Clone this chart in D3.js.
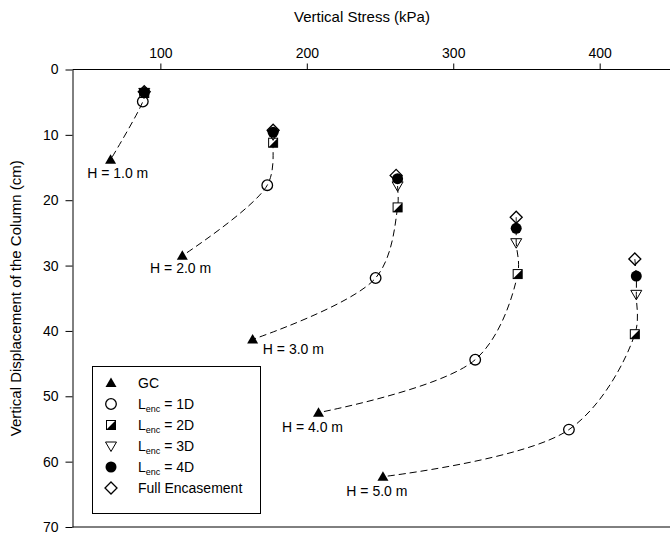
<!DOCTYPE html>
<html>
<head>
<meta charset="utf-8">
<script src="https://cdn.jsdelivr.net/npm/d3@7"></script>
<style>
  html, body { margin: 0; padding: 0; background: #fff; }
  svg { display: block; font-family: "Liberation Sans", Arial, sans-serif; }
</style>
</head>
<body>
<svg id="chart" width="670" height="538"></svg>
<script>
// Column settlement paths: vertical stress (kPa) vs. vertical displacement (cm)
const heightLabels = ["H = 1.0 m", "H = 2.0 m", "H = 3.0 m", "H = 4.0 m", "H = 5.0 m"];

const gcStress   = [66, 115, 163, 208, 252];
const gcDisp     = [13.8, 28.5, 41.3, 52.5, 62.3];
const enc1Stress = [88, 173, 247, 315, 379];
const enc1Disp   = [4.9, 17.7, 31.9, 44.4, 55.1];
const enc2Stress = [89, 177, 262, 344, 424];
const enc2Disp   = [3.6, 11.2, 21.1, 31.3, 40.5];
const enc3Stress = [89, 177, 262, 343, 425];
const enc3Disp   = [3.5, 10.0, 17.8, 26.5, 34.4];
const enc4Stress = [89, 177, 262, 343, 425];
const enc4Disp   = [3.5, 9.6, 16.7, 24.3, 31.6];
const fullStress = [89, 177, 261, 343, 424];
const fullDisp   = [3.4, 9.3, 16.2, 22.6, 29.0];

// anchor (stress, displacement) of each "H = ..." annotation
const labelStress = [50, 93, 170, 183, 227];
const labelDisp   = [16.6, 31.1, 43.6, 55.5, 65.3];

const stressTicks = [100, 200, 300, 400];
const dispTicks   = [0, 10, 20, 30, 40, 50, 60, 70];

const seriesNames = ["GC", "Lenc = 1D", "Lenc = 2D", "Lenc = 3D", "Lenc = 4D", "Full Encasement"];
const seriesKeys  = ["gc", "enc1", "enc2", "enc3", "enc4", "full"];
const seriesStress = [gcStress, enc1Stress, enc2Stress, enc3Stress, enc4Stress, fullStress];
const seriesDisp   = [gcDisp, enc1Disp, enc2Disp, enc3Disp, enc4Disp, fullDisp];

const svg = d3.select("#chart");

const x = d3.scaleLinear().domain([40, 450]).range([72.5, 672.9]);
const y = d3.scaleLinear().domain([0, 70]).range([69.5, 527]);

// top axis
const xAxis = svg.append("g")
  .attr("transform", `translate(0,${y(0)})`)
  .call(d3.axisTop(x).tickValues(stressTicks).tickSize(6).tickPadding(6).tickSizeOuter(0));
xAxis.select(".domain").remove();
svg.append("line").attr("x1", x(40)).attr("x2", 670).attr("y1", y(0)).attr("y2", y(0))
  .attr("stroke", "#000").attr("stroke-width", 1);

// left axis
const yAxis = svg.append("g")
  .attr("transform", `translate(${x(40)},0)`)
  .call(d3.axisLeft(y).tickValues(dispTicks).tickSize(7).tickPadding(7).tickSizeOuter(0));

// bottom frame line
svg.append("line").attr("x1", x(40)).attr("x2", 670).attr("y1", y(70)).attr("y2", y(70))
  .attr("stroke", "#000").attr("stroke-width", 1);

svg.selectAll(".tick text").attr("font-size", 14).attr("fill", "#000")
  .style("font-family", "'Liberation Sans', Arial, sans-serif");
svg.selectAll(".tick line, .domain").attr("stroke", "#000");

// axis titles
svg.append("text").attr("x", 362).attr("y", 22).attr("text-anchor", "middle")
  .attr("font-size", 15).text("Vertical Stress (kPa)");
svg.append("text")
  .attr("transform", `translate(21,${(y(0) + y(70)) / 2}) rotate(-90)`)
  .attr("text-anchor", "middle").attr("font-size", 15)
  .text("Vertical Displacement of the Column (cm)");

// dashed paths: one per column height, ordered by displacement
const line = d3.line().x(d => x(d[0])).y(d => y(d[1])).curve(d3.curveCatmullRom.alpha(0.5));
heightLabels.forEach((lab, i) => {
  const pts = seriesStress.map((s, k) => [s[i], seriesDisp[k][i]])
    .sort((a, b) => a[1] - b[1]);
  svg.append("path").attr("d", line(pts)).attr("fill", "none")
    .attr("stroke", "#000").attr("stroke-width", 1).attr("stroke-dasharray", "7,4");
});

// marker drawing
function drawMarker(g, key) {
  if (key === "gc") {
    g.append("path").attr("d", "M0,-5.5 L5.5,4 L-5.5,4 Z").attr("fill", "#000");
  } else if (key === "enc1") {
    g.append("circle").attr("r", 5.3).attr("fill", "none").attr("stroke", "#000").attr("stroke-width", 1.3);
  } else if (key === "enc2") {
    g.append("rect").attr("x", -4.5).attr("y", -4.5).attr("width", 9).attr("height", 9)
      .attr("fill", "#fff").attr("stroke", "#000").attr("stroke-width", 1);
    g.append("path").attr("d", "M4.5,-4.5 L4.5,4.5 L-4.5,4.5 Z").attr("fill", "#000");
  } else if (key === "enc3") {
    g.append("path").attr("d", "M-5.5,-4 L5.5,-4 L0,5.5 Z").attr("fill", "none")
      .attr("stroke", "#000").attr("stroke-width", 1);
  } else if (key === "enc4") {
    g.append("circle").attr("r", 5.5).attr("fill", "#000");
  } else {
    g.append("path").attr("d", "M0,-6 L6,0 L0,6 L-6,0 Z").attr("fill", "none")
      .attr("stroke", "#000").attr("stroke-width", 1.3);
  }
}

seriesKeys.forEach((key, k) => {
  seriesStress[k].forEach((s, i) => {
    const g = svg.append("g").attr("transform", `translate(${x(s)},${y(seriesDisp[k][i])})`);
    drawMarker(g, key);
  });
});

// height annotations
heightLabels.forEach((lab, i) => {
  svg.append("text").attr("x", x(labelStress[i])).attr("y", y(labelDisp[i]))
    .attr("font-size", 14).text(lab);
});

// legend
const lg = svg.append("g");
lg.append("rect").attr("x", 92.5).attr("y", 366.5).attr("width", 168).attr("height", 147)
  .attr("fill", "#fff").attr("stroke", "#000").attr("stroke-width", 1);
seriesKeys.forEach((key, k) => {
  const cy = 383 + k * 21;
  drawMarker(lg.append("g").attr("transform", `translate(111,${cy})`), key);
  const t = lg.append("text").attr("x", 138).attr("y", cy + 5).attr("font-size", 14);
  const name = seriesNames[k];
  if (name.startsWith("Lenc")) {
    t.append("tspan").text("L");
    t.append("tspan").attr("font-size", 9).attr("dy", 3).text("enc");
    t.append("tspan").attr("dy", -3).text(name.slice(4));
  } else {
    t.text(name);
  }
});
</script>
</body>
</html>
